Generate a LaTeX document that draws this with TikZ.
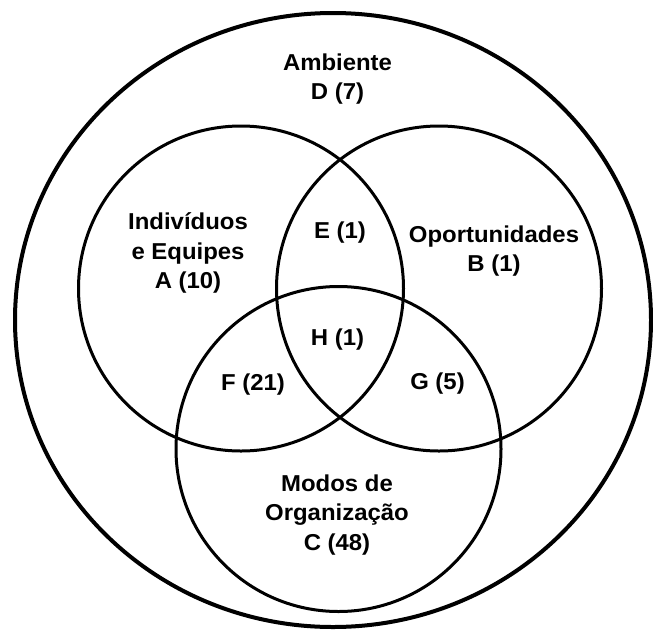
\documentclass[tikz,border=0pt]{standalone}
\usepackage{fontspec}
\setmainfont{Liberation Sans}[FakeStretch=1.04]
\begin{document}
\begin{tikzpicture}[x=1pt,y=-1pt,
  ring/.style={draw=black,line width=3pt},
  outerring/.style={draw=black,line width=4pt},
  label/.style={align=center,inner sep=0pt,font=\fontsize{23}{29.5}\selectfont\bfseries}]
\useasboundingbox (0,0) rectangle (653,630);
% surrounding environment
\draw[outerring] (333,320) ellipse [x radius=318, y radius=307];
% the three overlapping sets
\draw[ring] (241,288.5) circle [radius=162.5];
\draw[ring] (439,288.5) circle [radius=162.5];
\draw[ring] (338.5,449) circle [radius=162.5];
% region labels
\node[label] (d) at (337.5,79) {Ambiente\\D (7)};
\node[label] (a) at (188,253) {Indivíduos\\e Equipes\\A (10)};
\node[label] (e) at (340,233) {E (1)};
\node[label] (b) at (494,251) {Oportunidades\\B (1)};
\node[label] (h) at (337.5,340) {H (1)};
\node[label] (f) at (253,385) {F (21)};
\node[label] (g) at (437.5,384) {G (5)};
\node[label] (c) at (337,515) {Modos de\\Organização\\C (48)};
\end{tikzpicture}
\end{document}
